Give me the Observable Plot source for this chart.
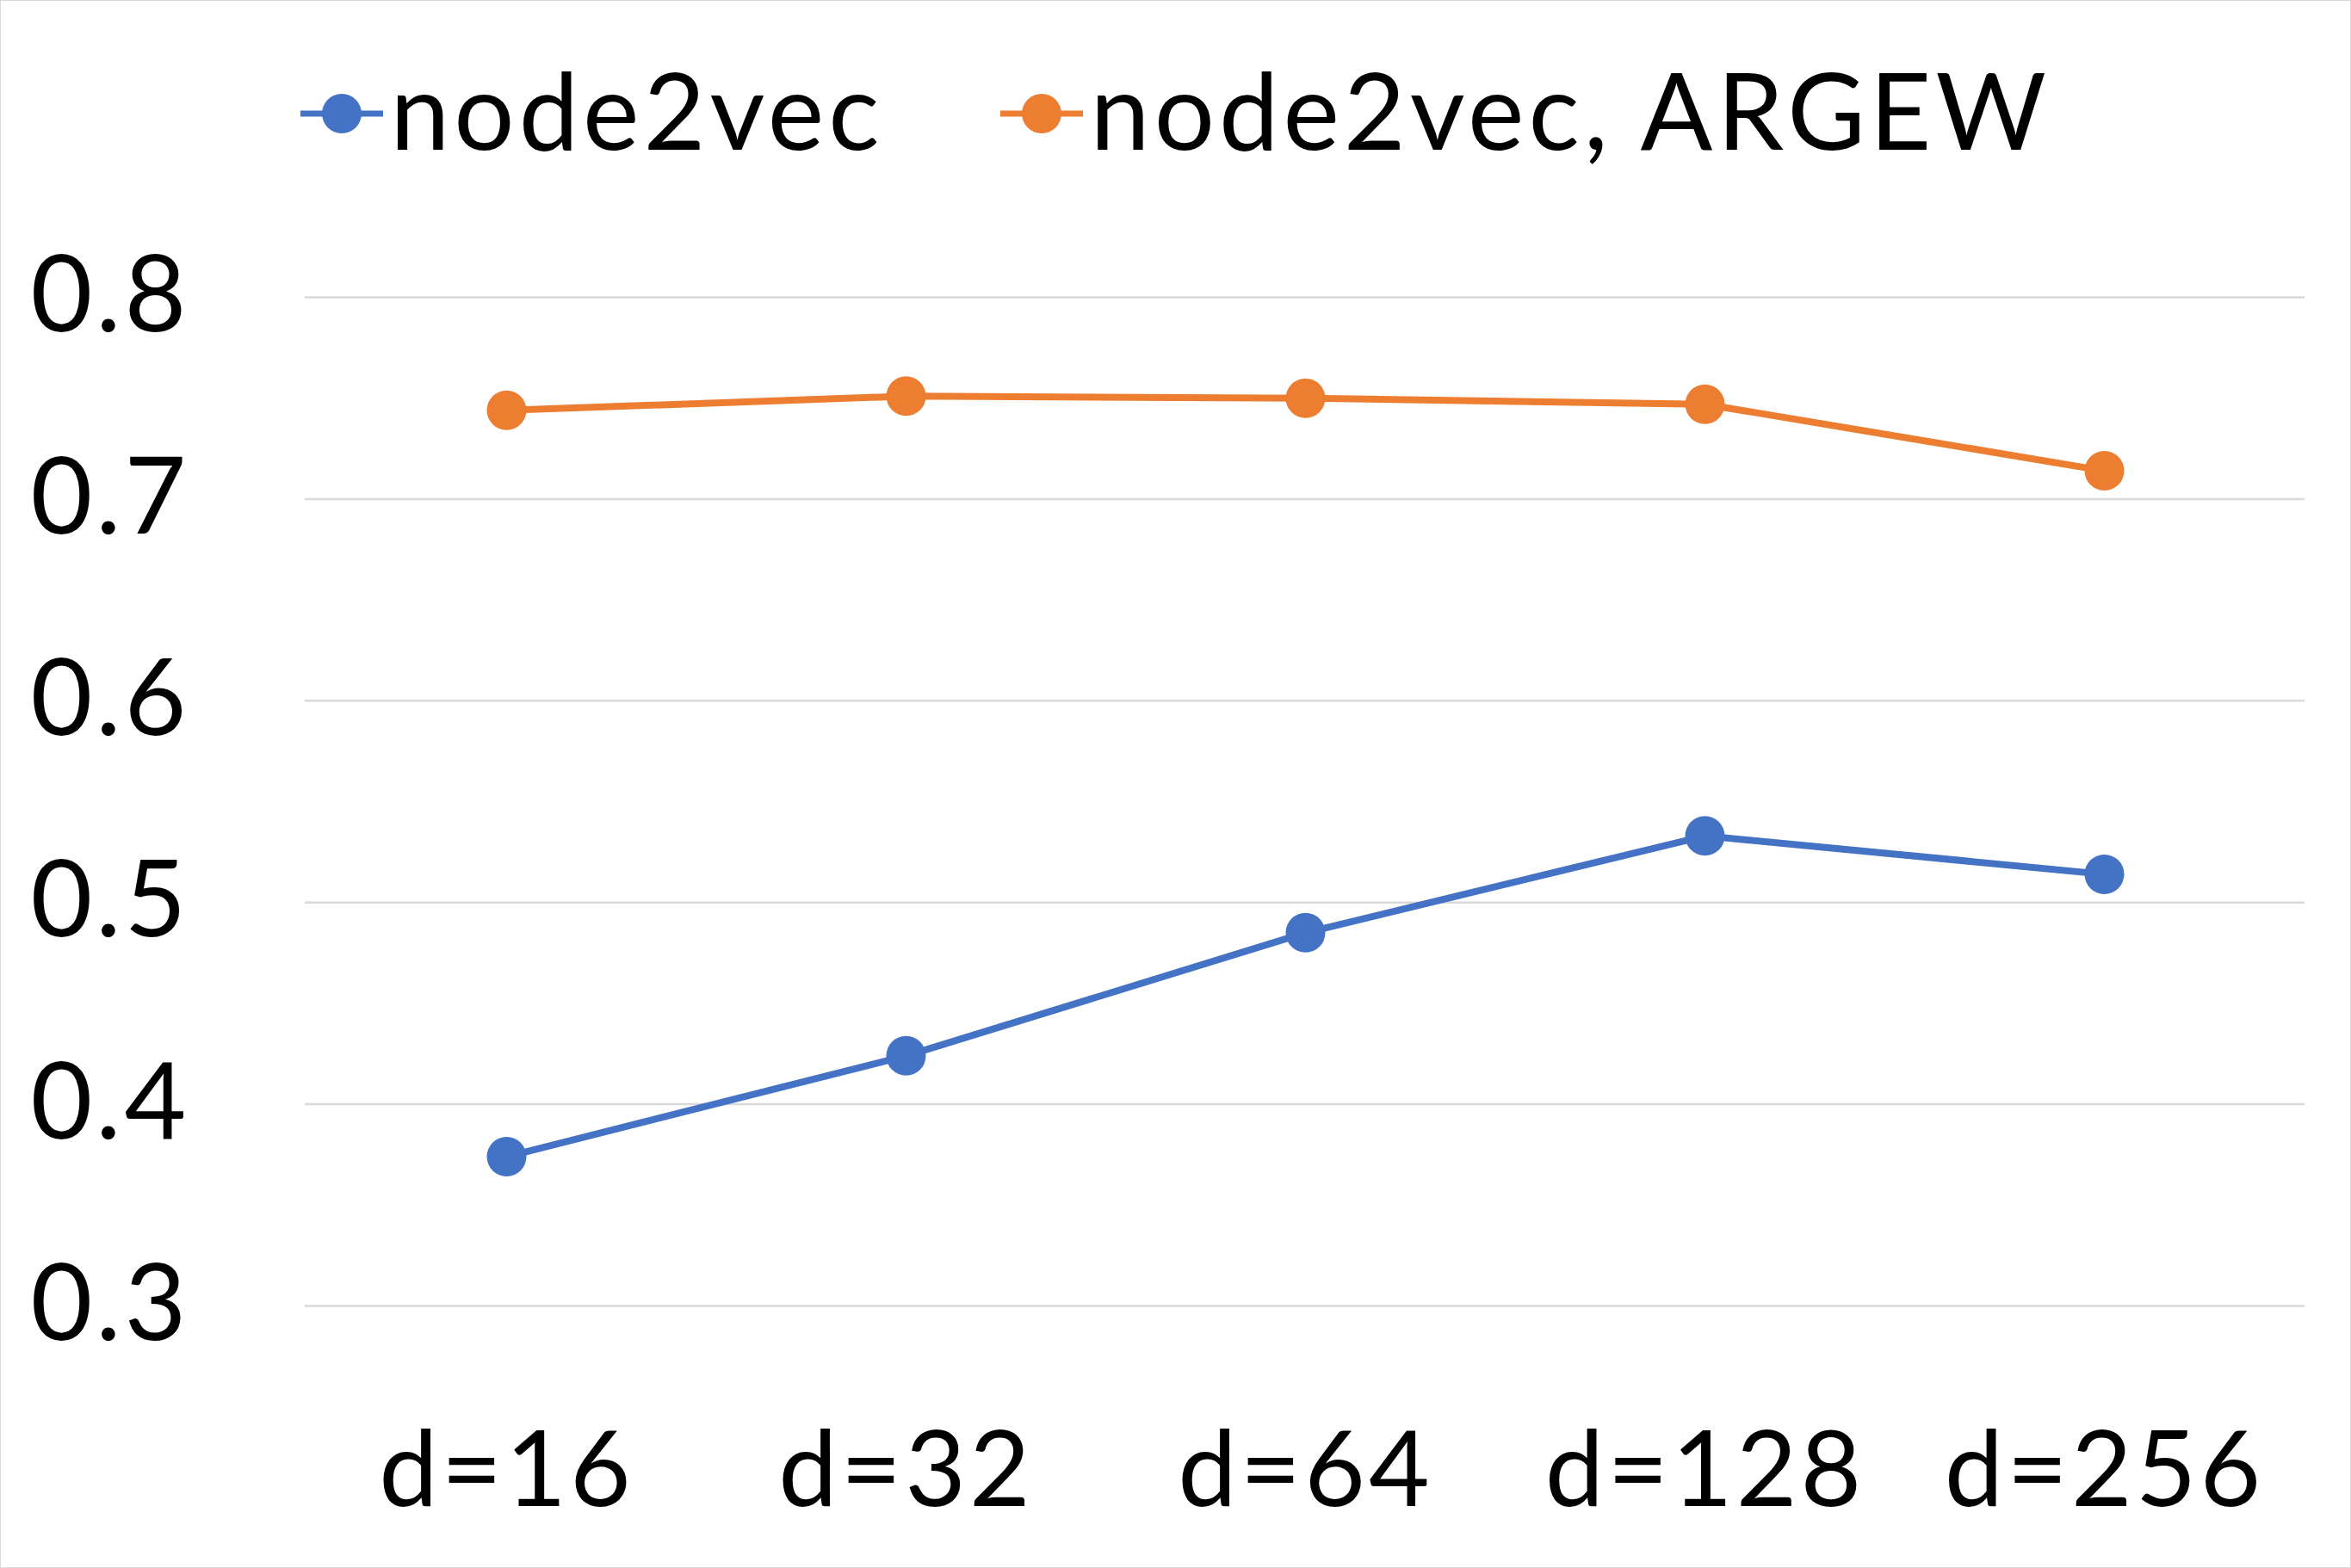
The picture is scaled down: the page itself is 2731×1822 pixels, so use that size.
<!DOCTYPE html>
<html>
<head>
<meta charset="utf-8">
<script src="https://cdn.jsdelivr.net/npm/d3@7"></script>
<script src="https://cdn.jsdelivr.net/npm/@observablehq/plot@0.6"></script>
<style>
html, body { margin: 0; padding: 0; background: #fff; }
#frame {
  width: 2731px; height: 1822px; box-sizing: border-box;
  border: 1px solid #D9D9D9; position: relative; overflow: hidden;
  font-family: Lato, "Open Sans", sans-serif; color: #000; background: #fff;
}
#legend {
  position: absolute; left: 0; top: 0; width: 100%; height: 262px;
  display: flex; justify-content: center; align-items: center; gap: 136px;
}
.item { display: flex; align-items: center; gap: 8px; }
.item span { font-size: 124px; line-height: 1; position: relative; top: -6px; letter-spacing: 5px; }
#chart { position: absolute; left: 0; top: 230px; }
#chart text { letter-spacing: 4px; }
</style>
</head>
<body>
<div id="frame">
  <div id="legend"></div>
  <div id="chart"></div>
</div>
<script>
// ---- data ----
const categories = ["d=16", "d=32", "d=64", "d=128", "d=256"];
const seriesNames = ["node2vec", "node2vec, ARGEW"];
const node2vec = [0.374, 0.424, 0.485, 0.533, 0.514];
const node2vecArgew = [0.744, 0.751, 0.750, 0.747, 0.714];
const seriesColors = ["#4472C4", "#ED7D31"];
const yTicks = [0.3, 0.4, 0.5, 0.6, 0.7, 0.8];

const seriesValues = [node2vec, node2vecArgew];
const data = [];
seriesNames.forEach((s, i) => categories.forEach((c, j) => data.push({series: s, cat: c, value: seriesValues[i][j]})));

// ---- legend ----
const legend = document.getElementById("legend");
seriesNames.forEach((s, i) => {
  const item = document.createElement("div");
  item.className = "item";
  item.innerHTML = `<svg width="96" height="50"><line x1="0" y1="25" x2="96" y2="25" stroke="${seriesColors[i]}" stroke-width="7"/><circle cx="48" cy="25" r="23" fill="${seriesColors[i]}"/></svg><span>${s}</span>`;
  legend.appendChild(item);
});

// ---- chart ----
const chart = Plot.plot({
  width: 2729,
  height: 1590,
  marginLeft: 353,
  marginRight: 53,
  marginTop: 114,
  marginBottom: 304,
  style: {fontFamily: "Lato, 'Open Sans', sans-serif", fontSize: "122px", color: "#000", background: "transparent", overflow: "visible"},
  x: {type: "point", domain: categories, padding: 0.5, axis: null},
  y: {domain: [0.3, 0.8], axis: null},
  color: {domain: seriesNames, range: seriesColors},
  marks: [
    Plot.gridY(yTicks, {stroke: "#D9D9D9", strokeOpacity: 1, strokeWidth: 2.5}),
    Plot.axisY(yTicks, {tickSize: 0, tickPadding: 134, tickFormat: d => d.toFixed(1), fontSize: 124, label: null}),
    Plot.axisX(categories, {tickSize: 0, tickPadding: 146, fontSize: 122, label: null}),
    Plot.line(data, {x: "cat", y: "value", z: "series", stroke: "series", strokeWidth: 8}),
    Plot.dot(data, {x: "cat", y: "value", fill: "series", r: 23})
  ]
});
document.getElementById("chart").appendChild(chart);
</script>
</body>
</html>
